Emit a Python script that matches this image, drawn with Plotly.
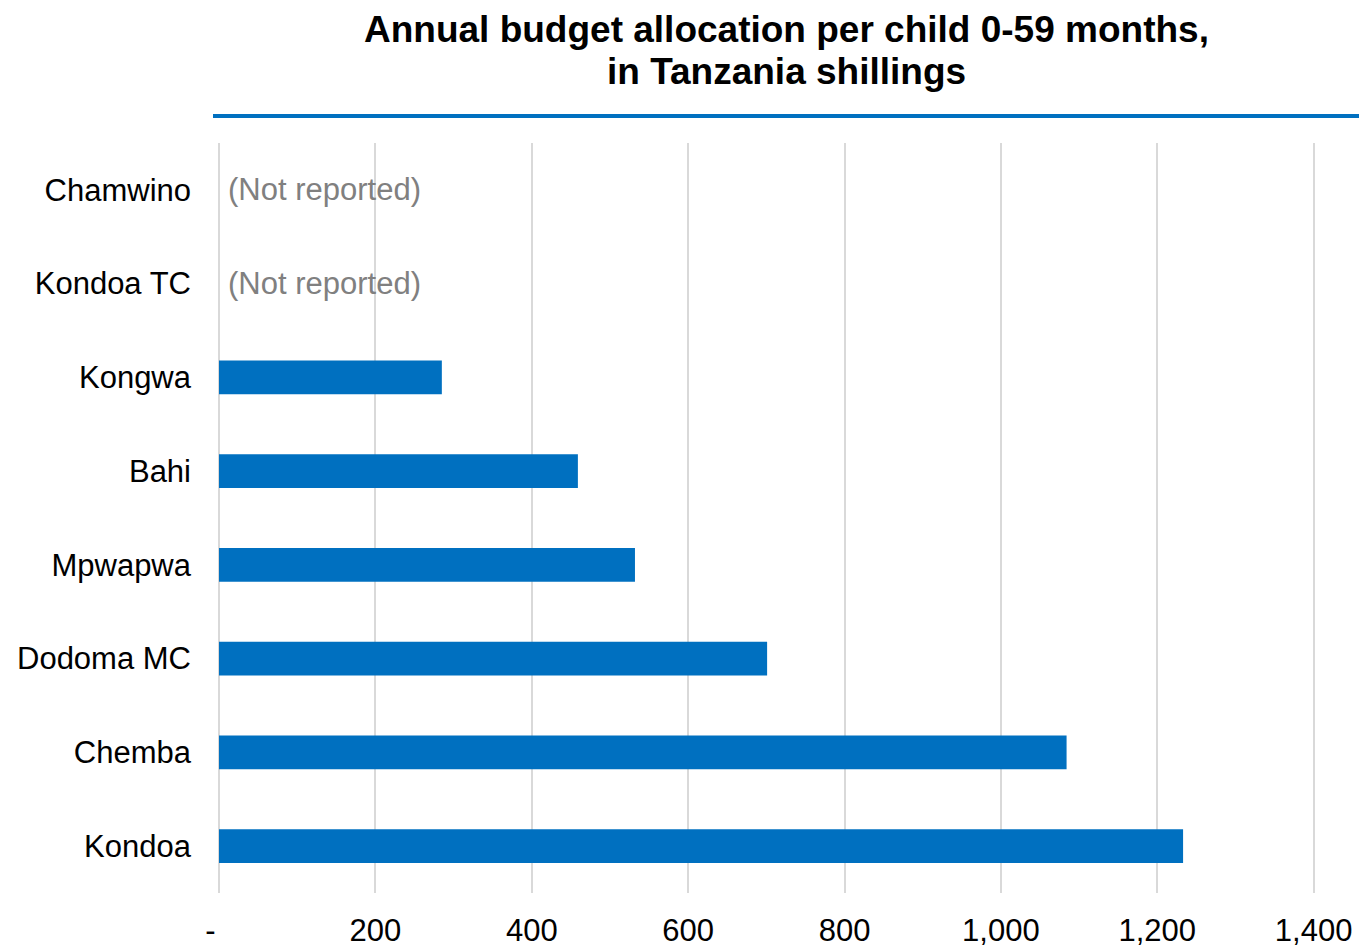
import plotly.graph_objects as go

districts = ["Kondoa", "Chemba", "Dodoma MC", "Mpwapwa", "Bahi", "Kongwa", "Kondoa TC", "Chamwino"]
allocation = [1233, 1084, 701, 532, 459, 285, None, None]
tick_vals = [0, 200, 400, 600, 800, 1000, 1200, 1400]
tick_text = ["-\u00a0\u00a0", "200", "400", "600", "800", "1,000", "1,200", "1,400"]
title_lines = ["Annual budget allocation per child 0-59 months,", "in Tanzania shillings"]
not_reported_label = "(Not reported)"

W, H = 1359, 948
ML, MR, MT, MB = 219, 43, 143, 55
PW = W - ML - MR
PH = H - MT - MB

def py(pix):
    return (H - MB - pix) / PH

def px(pix):
    return (pix - ML) / PW

BLUE = "#0070C0"
FONT = "Liberation Sans, Arial, sans-serif"

fig = go.Figure()
fig.add_trace(go.Bar(
    x=allocation, y=districts, orientation="h",
    marker=dict(color=BLUE, line=dict(width=0)),
    width=0.36, hoverinfo="x+y",
))

annotations = []
for d, v in zip(districts, allocation):
    if v is None:
        annotations.append(dict(x=0, y=d, xref="x", yref="y", text=not_reported_label,
                                showarrow=False, xanchor="left", yanchor="middle", xshift=7,
                                font=dict(family=FONT, size=31, color="#808080")))

for txt, ypix in zip(title_lines, [29, 72]):
    annotations.append(dict(x=px(786), y=py(ypix), xref="paper", yref="paper",
                            text="<b>" + txt + "</b>", showarrow=False,
                            xanchor="center", yanchor="middle",
                            font=dict(family=FONT, size=37, color="#000000")))

fig.update_layout(
    width=W, height=H,
    margin=dict(l=ML, r=MR, t=MT, b=MB, pad=0, autoexpand=False),
    paper_bgcolor="white", plot_bgcolor="white",
    showlegend=False,
    font=dict(family=FONT, size=31, color="#000000"),
    annotations=annotations,
    shapes=[dict(type="line", xref="paper", yref="paper",
                 x0=px(213), x1=px(1359), y0=py(116), y1=py(116),
                 line=dict(color=BLUE, width=4))],
    xaxis=dict(range=[0, 1403], tickvals=tick_vals, ticktext=tick_text,
               showgrid=True, gridcolor="#D9D9D9", gridwidth=1.5,
               zeroline=True, zerolinecolor="#D9D9D9", zerolinewidth=1.5,
               showline=False, ticks="", ticklabelstandoff=16, automargin=False,
               tickfont=dict(family=FONT, size=31, color="#000000"), fixedrange=True),
    yaxis=dict(type="category", categoryorder="array", categoryarray=districts,
               range=[-0.5, 7.5], showgrid=False, zeroline=False, showline=False,
               ticks="", ticklabelstandoff=27, automargin=False,
               tickfont=dict(family=FONT, size=31, color="#000000"), fixedrange=True),
)

fig.write_html("out.html")
